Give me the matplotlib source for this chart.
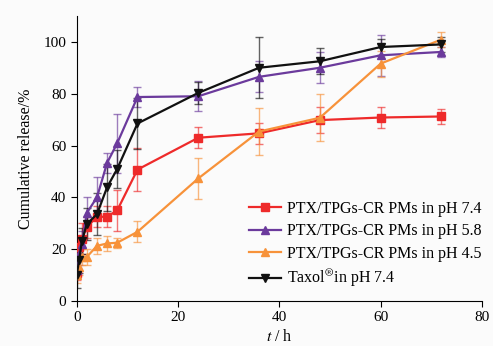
import matplotlib.pyplot as plt
import numpy as np

plt.rcParams['font.family'] = 'Liberation Serif'
plt.rcParams['mathtext.fontset'] = 'stix'

t = [0, 0.5, 1, 2, 4, 6, 8, 12, 24, 36, 48, 60, 72]

red = [11, 21, 24, 28.5, 32.5, 32.5, 35, 50.7, 63, 64.7, 69.8, 70.8, 71.2]
red_err = [3, 4, 6, 4, 4, 4, 8, 8.4, 4, 4, 5, 4, 3]
purple = [12, 18, 22, 34, 40, 53.3, 60.9, 78.7, 79, 86.5, 90, 94.8, 96.1]
purple_err = [3, 4, 5, 6, 8, 4, 11.4, 4, 5.8, 6, 6, 8, 2]
orange = [10, 13, 17, 17, 21.3, 22.2, 22.5, 26.7, 47.3, 65.4, 70.7, 91.6, 100.9]
orange_err = [3, 3, 3, 3, 3, 3, 2, 4, 8, 9, 9, 5, 3]
black = [10, 16, 23, 29.7, 33.5, 43.9, 51, 68.5, 80.3, 90, 92.5, 98, 99]
black_err = [5, 5, 5, 6, 8, 9, 7.3, 10, 4.3, 11.8, 5, 3, 3]

labels = ['PTX/TPGs-CR PMs in pH 7.4', 'PTX/TPGs-CR PMs in pH 5.8',
          'PTX/TPGs-CR PMs in pH 4.5', r'Taxol$^{\circledR}$in pH 7.4']

fig = plt.figure(figsize=(4.93, 3.46), dpi=100, facecolor='#fbfbfb')
ax = fig.add_axes([0.1556, 0.130, 0.822, 0.824])
ax.set_facecolor('#fbfbfb')

series = [
    (red, red_err, '#ee2a2a', 's', 5.5),
    (purple, purple_err, '#6b3a9c', '^', 5.5),
    (orange, orange_err, '#f7923a', '^', 5.5),
    (black, black_err, '#111111', 'v', 5.5),
]
for (y, e, c, m, ms), lab in zip(series, labels):
    ax.errorbar(t, y, yerr=e, color=c, ecolor=c, elinewidth=1.0, capsize=3,
                alpha=0.65, fmt='none', zorder=2)
    ax.plot(t, y, color=c, marker=m, markersize=ms, linewidth=1.6, label=lab, zorder=3)

ax.set_xlim(0, 80)
ax.set_ylim(0, 110)
ax.set_xticks([0, 20, 40, 60, 80])
ax.set_yticks([0, 20, 40, 60, 80, 100])
ax.spines['top'].set_visible(False)
ax.spines['right'].set_visible(False)
ax.tick_params(direction='out', length=4, labelsize=11)

ax.set_xlabel(r'$t$ / h', fontsize=11.5, labelpad=3)
ax.set_ylabel('Cumulative release/%', fontsize=11.5, labelpad=7)

ax.legend(loc='lower right', bbox_to_anchor=(1.035, -0.01), frameon=False,
          fontsize=11.5, handlelength=2.0, handletextpad=0.4, labelspacing=0.4)

fig.savefig('out.png', dpi=100, facecolor=fig.get_facecolor())
